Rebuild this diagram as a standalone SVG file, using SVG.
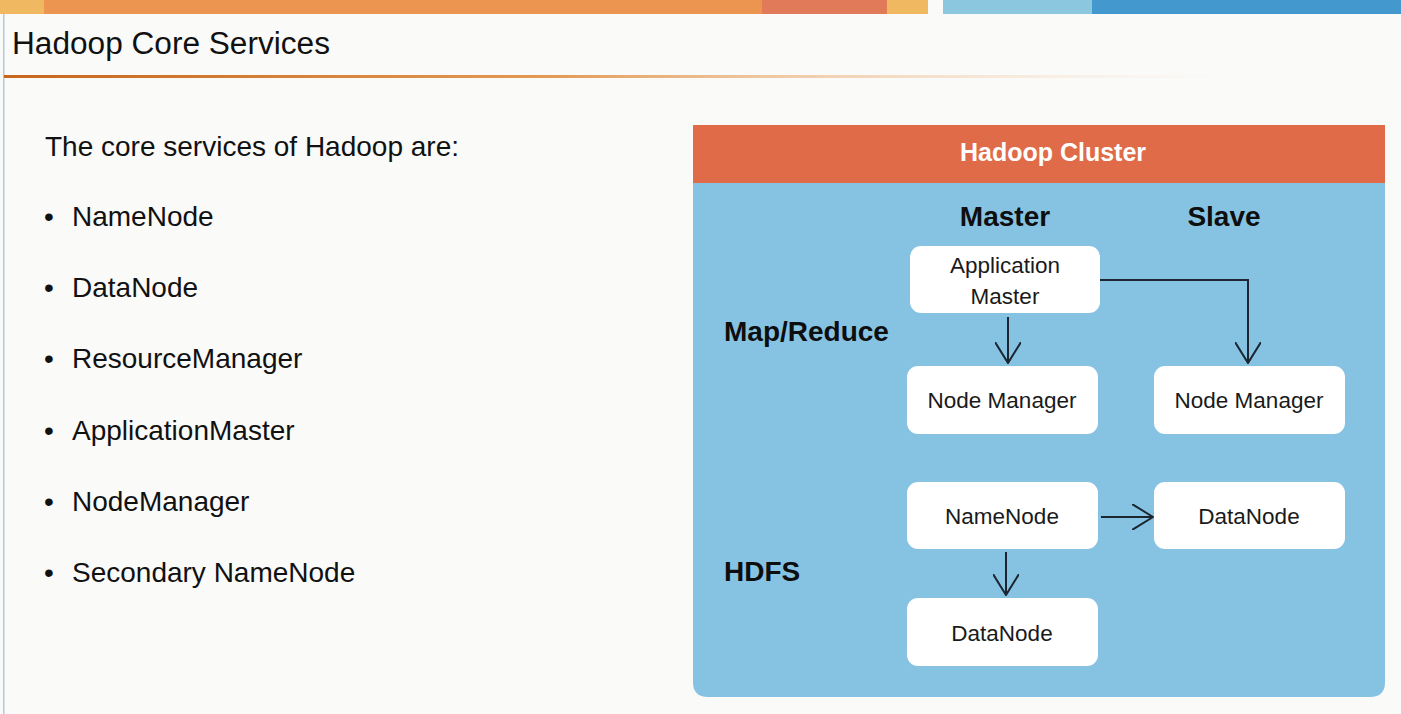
<svg xmlns="http://www.w3.org/2000/svg" width="1401" height="714" viewBox="0 0 1401 714">
<defs>
<linearGradient id="ul" x1="0" y1="0" x2="1" y2="0">
<stop offset="0" stop-color="#c8661c"/>
<stop offset="0.45" stop-color="#e39a55"/>
<stop offset="1" stop-color="#f6dcc0" stop-opacity="0"/>
</linearGradient>
<marker id="ah" viewBox="0 0 22 26" refX="21" refY="13" markerWidth="22" markerHeight="26" markerUnits="userSpaceOnUse" orient="auto">
<path d="M0,0 L21,13 L0,26" fill="none" stroke="#1b2630" stroke-width="2"/>
</marker>
</defs>
<style>
.body{font-family:"Liberation Sans",Arial,sans-serif;font-size:28px;fill:#111}
.node rect{fill:#ffffff}
.nt{font-family:"Liberation Sans",Arial,sans-serif;font-size:22.5px;fill:#1a1a1a;text-anchor:middle}
.lbl{font-family:"Liberation Sans",Arial,sans-serif;font-size:28px;font-weight:bold;fill:#0e0e0e}
.conn{fill:none;stroke:#1b2630;stroke-width:2}
</style>
<rect x="0" y="0" width="1401" height="714" fill="#fafaf9"/>
<!-- top bar -->
<rect x="0" y="0" width="44" height="14" fill="#f0b860"/>
<rect x="44" y="0" width="718" height="14" fill="#ec9550"/>
<rect x="762" y="0" width="125" height="14" fill="#e07a58"/>
<rect x="887" y="0" width="41" height="14" fill="#f0b860"/>
<rect x="943" y="0" width="149" height="14" fill="#8cc7e0"/>
<rect x="1092" y="0" width="309" height="14" fill="#4398ce"/>
<rect x="3" y="14" width="1.5" height="700" fill="#b8c8dc"/>
<!-- title -->
<text x="12" y="54" font-family="Liberation Sans, Arial, sans-serif" font-size="31" fill="#111" textLength="318" lengthAdjust="spacingAndGlyphs">Hadoop Core Services</text>
<rect x="4" y="75" width="1220" height="3" fill="url(#ul)"/>
<!-- left text -->
<text class="body" x="45" y="156">The core services of Hadoop are:</text>
<g class="body">
<text x="44" y="226">•</text><text x="72" y="226">NameNode</text>
<text x="44" y="297">•</text><text x="72" y="297">DataNode</text>
<text x="44" y="368">•</text><text x="72" y="368">ResourceManager</text>
<text x="44" y="440">•</text><text x="72" y="440">ApplicationMaster</text>
<text x="44" y="511">•</text><text x="72" y="511">NodeManager</text>
<text x="44" y="582">•</text><text x="72" y="582">Secondary NameNode</text>
</g>
<!-- cluster panel -->
<g id="cluster">
<path d="M693,125 H1385 V682 Q1385,697 1370,697 H708 Q693,697 693,682 Z" fill="#86c3e3"/>
<rect x="693" y="125" width="692" height="58" fill="#e06b48"/>
<text x="1053" y="161" font-family="Liberation Sans, Arial, sans-serif" font-size="25" font-weight="bold" fill="#ffffff" text-anchor="middle">Hadoop Cluster</text>
<text class="lbl" x="1005" y="226" text-anchor="middle">Master</text>
<text class="lbl" x="1224" y="226" text-anchor="middle">Slave</text>
<text class="lbl" x="724" y="341">Map/Reduce</text>
<text class="lbl" x="724" y="581">HDFS</text>
</g>
<g id="appmaster" class="node"><rect x="910" y="246" width="190" height="67" rx="11"/><text class="nt" x="1005" y="273">Application</text><text class="nt" x="1005" y="304">Master</text></g>
<g id="nodemanager-master" class="node"><rect x="907" y="366" width="191" height="68" rx="11"/><text class="nt" x="1002" y="408">Node Manager</text></g>
<g id="nodemanager-slave" class="node"><rect x="1154" y="366" width="191" height="68" rx="11"/><text class="nt" x="1249" y="408">Node Manager</text></g>
<g id="namenode" class="node"><rect x="907" y="482" width="191" height="67" rx="11"/><text class="nt" x="1002" y="524">NameNode</text></g>
<g id="datanode-slave" class="node"><rect x="1154" y="482" width="191" height="67" rx="11"/><text class="nt" x="1249" y="524">DataNode</text></g>
<g id="datanode-master" class="node"><rect x="907" y="598" width="191" height="68" rx="11"/><text class="nt" x="1002" y="641">DataNode</text></g>
<!-- connectors -->
<g id="connectors">
<path class="conn" d="M1008,317 V363" marker-end="url(#ah)"/>
<path class="conn" d="M1100,280 H1248 V363" marker-end="url(#ah)"/>
<path class="conn" d="M1101,517 H1153" marker-end="url(#ah)"/>
<path class="conn" d="M1006,552 V595" marker-end="url(#ah)"/>
</g>
</svg>
